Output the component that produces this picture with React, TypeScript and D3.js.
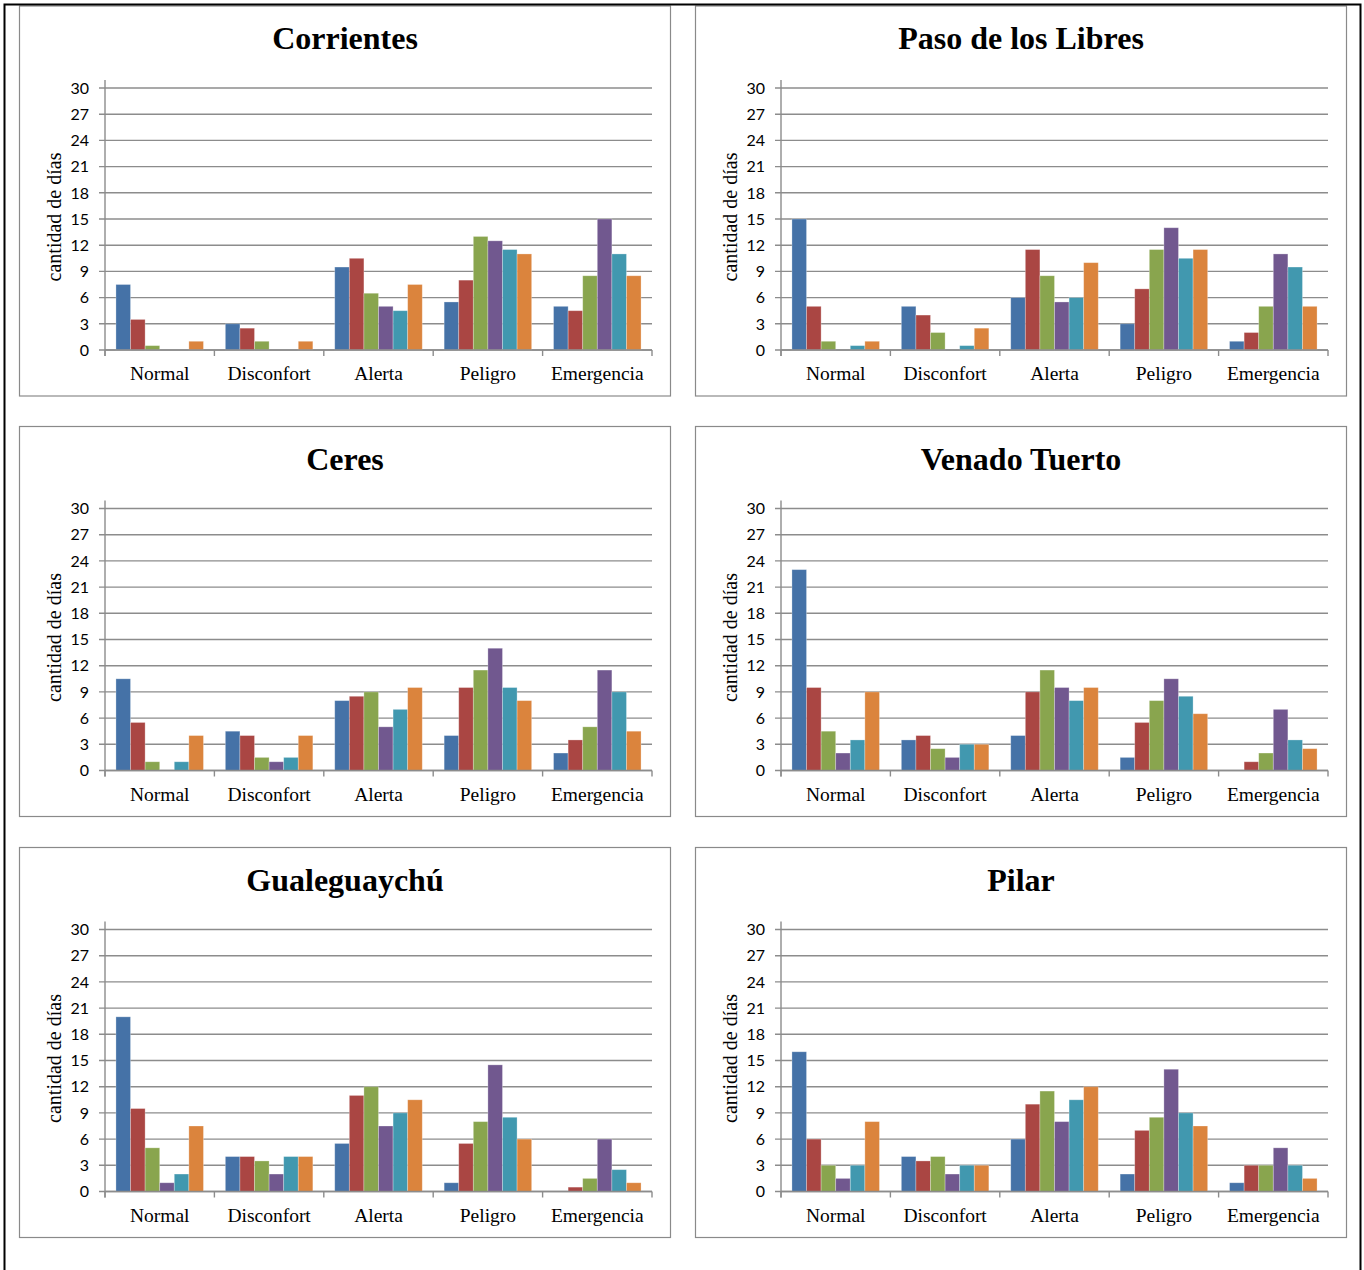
import React from "react";
import * as d3 from "d3";

const CATEGORIES = ["Normal", "Disconfort", "Alerta", "Peligro", "Emergencia"];
const Y_TICKS = [0, 3, 6, 9, 12, 15, 18, 21, 24, 27, 30];
const SERIES = [0, 1, 2, 3, 4, 5];
const COLORS = ["#4572A7", "#AA4643", "#89A54E", "#71588F", "#4198AF", "#DB843D"];
const Y_TITLE = "cantidad de días";

// values per category (Normal, Disconfort, Alerta, Peligro, Emergencia), 6 series each
const corrientes = [
  [7.5, 3.5, 0.5, 0, 0, 1],
  [3, 2.5, 1, 0, 0, 1],
  [9.5, 10.5, 6.5, 5, 4.5, 7.5],
  [5.5, 8, 13, 12.5, 11.5, 11],
  [5, 4.5, 8.5, 15, 11, 8.5],
];
const pasoDeLosLibres = [
  [15, 5, 1, 0, 0.5, 1],
  [5, 4, 2, 0, 0.5, 2.5],
  [6, 11.5, 8.5, 5.5, 6, 10],
  [3, 7, 11.5, 14, 10.5, 11.5],
  [1, 2, 5, 11, 9.5, 5],
];
const ceres = [
  [10.5, 5.5, 1, 0, 1, 4],
  [4.5, 4, 1.5, 1, 1.5, 4],
  [8, 8.5, 9, 5, 7, 9.5],
  [4, 9.5, 11.5, 14, 9.5, 8],
  [2, 3.5, 5, 11.5, 9, 4.5],
];
const venadoTuerto = [
  [23, 9.5, 4.5, 2, 3.5, 9],
  [3.5, 4, 2.5, 1.5, 3, 3],
  [4, 9, 11.5, 9.5, 8, 9.5],
  [1.5, 5.5, 8, 10.5, 8.5, 6.5],
  [0, 1, 2, 7, 3.5, 2.5],
];
const gualeguaychu = [
  [20, 9.5, 5, 1, 2, 7.5],
  [4, 4, 3.5, 2, 4, 4],
  [5.5, 11, 12, 7.5, 9, 10.5],
  [1, 5.5, 8, 14.5, 8.5, 6],
  [0, 0.5, 1.5, 6, 2.5, 1],
];
const pilar = [
  [16, 6, 3, 1.5, 3, 8],
  [4, 3.5, 4, 2, 3, 3],
  [6, 10, 11.5, 8, 10.5, 12],
  [2, 7, 8.5, 14, 9, 7.5],
  [1, 3, 3, 5, 3, 1.5],
];

const PANELS = [
  { title: "Corrientes", data: corrientes, x: 19.5, y: 6 },
  { title: "Paso de los Libres", data: pasoDeLosLibres, x: 695.5, y: 6 },
  { title: "Ceres", data: ceres, x: 19.5, y: 426.5 },
  { title: "Venado Tuerto", data: venadoTuerto, x: 695.5, y: 426.5 },
  { title: "Gualeguaychú", data: gualeguaychu, x: 19.5, y: 847.5 },
  { title: "Pilar", data: pilar, x: 695.5, y: 847.5 },
];

const PW = 651;
const PH = 390;
const PL = 85.5;
const PR = 632.5;
const PTOP = 82;
const PBOT = 344;
const GRID = "#8c8c8c";
const SERIF = "'Liberation Serif', 'Times New Roman', serif";
const SANS = "Lato, 'Open Sans', sans-serif";

function Panel({ title, data, x, y }: any) {
  const xCat = d3.scaleBand<string>().domain(CATEGORIES).range([PL, PR]).padding(0);
  const xSer = d3
    .scaleBand<number>()
    .domain(SERIES)
    .range([0, xCat.bandwidth()])
    .paddingInner(0)
    .paddingOuter(0.75);
  const yS = d3.scaleLinear().domain([0, 30]).range([PBOT, PTOP]);
  const catEdges = [...CATEGORIES.map((c) => xCat(c) as number), PR];
  return (
    <g transform={`translate(${x},${y})`}>
      <rect x={0} y={0} width={PW} height={PH} fill="#fff" stroke="#8a8a8a" strokeWidth={1.2} />
      <text
        x={PW / 2}
        y={43}
        textAnchor="middle"
        fontFamily={SERIF}
        fontWeight="bold"
        fontSize={32}
        fill="#000"
      >
        {title}
      </text>
      {Y_TICKS.map((t) => (
        <g key={t}>
          <line x1={PL - 6} x2={PR} y1={yS(t)} y2={yS(t)} stroke={GRID} strokeWidth={1.4} />
          <text
            x={PL - 16}
            y={yS(t)}
            dy="0.36em"
            textAnchor="end"
            fontFamily={SANS}
            fontSize={16}
            fill="#000"
          >
            {t}
          </text>
        </g>
      ))}
      {data.map((vals: number[], ci: number) =>
        vals.map((v: number, si: number) =>
          v > 0 ? (
            <rect
              key={`${ci}-${si}`}
              x={(xCat(CATEGORIES[ci]) as number) + (xSer(si) as number)}
              y={yS(v)}
              width={xSer.bandwidth()}
              height={yS(0) - yS(v)}
              fill={COLORS[si]}
              stroke="rgba(255,255,255,0.35)"
              strokeWidth={0.8}
            />
          ) : null
        )
      )}
      <line x1={PL} x2={PL} y1={PTOP - 8} y2={PBOT + 6} stroke={GRID} strokeWidth={1.4} />
      <line x1={PL} x2={PR} y1={PBOT} y2={PBOT} stroke={GRID} strokeWidth={1.4} />
      {catEdges.map((e, i) => (
        <line key={i} x1={e} x2={e} y1={PBOT} y2={PBOT + 6} stroke={GRID} strokeWidth={1.4} />
      ))}
      {CATEGORIES.map((c) => (
        <text
          key={c}
          x={(xCat(c) as number) + xCat.bandwidth() / 2}
          y={374}
          textAnchor="middle"
          fontFamily={SERIF}
          fontSize={19.5}
          fill="#000"
        >
          {c}
        </text>
      ))}
      <text
        transform={`translate(41,211) rotate(-90)`}
        textAnchor="middle"
        fontFamily={SERIF}
        fontSize={20}
        fill="#000"
      >
        {Y_TITLE}
      </text>
    </g>
  );
}

export default function App() {
  return (
    <svg
      width={1364}
      height={1270}
      style={{ position: "absolute", left: 0, top: 0, display: "block", background: "#fff" }}
    >
      <rect x={0} y={0} width={1364} height={1270} fill="#fff" />
      {PANELS.map((p) => (
        <Panel key={p.title} {...p} />
      ))}
      <path d="M4.5,1270 V4.5 H1360.5 V1270" fill="none" stroke="#000" strokeWidth={2} />
    </svg>
  );
}
